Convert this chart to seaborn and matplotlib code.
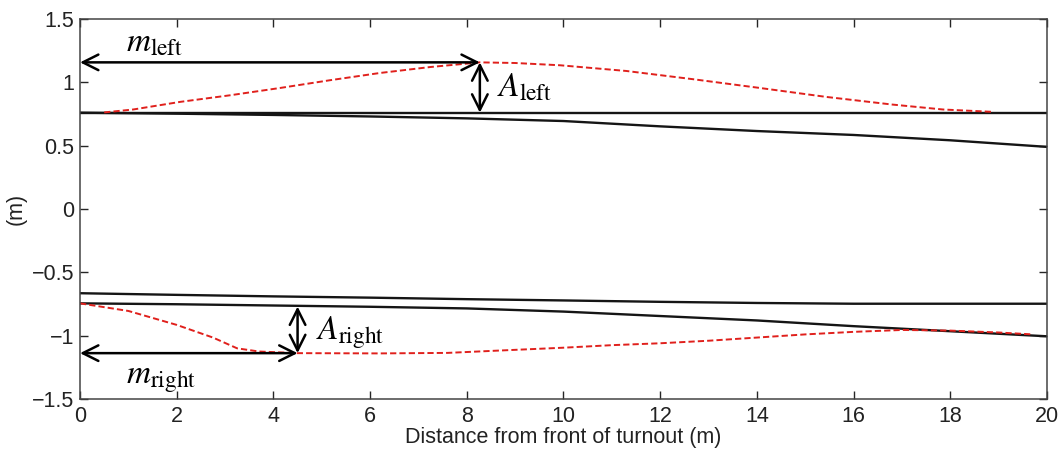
import numpy as np
import pandas as pd
import matplotlib
matplotlib.use("Agg")
import matplotlib.pyplot as plt
import seaborn as sns

# ---- data ----
rail_x = [0, 2, 4, 6, 8, 10, 12, 14, 16, 18, 20]
left_straight_y = [0.76, 0.76, 0.76, 0.76, 0.76, 0.76, 0.76, 0.76, 0.76, 0.76, 0.76]
left_curve_y = [0.76, 0.752, 0.742, 0.73, 0.715, 0.694, 0.652, 0.615, 0.584, 0.542, 0.49]
right_upper_y = [-0.665, -0.678, -0.69, -0.70, -0.712, -0.722, -0.733, -0.742, -0.748, -0.748, -0.748]
right_lower_y = [-0.745, -0.752, -0.762, -0.772, -0.785, -0.81, -0.845, -0.88, -0.925, -0.965, -1.005]

red_left_x = [0.5, 1.1, 2.07, 3.1, 4.14, 5.17, 6.2, 7.24, 8.27, 9.0, 9.93, 11.3, 12.68,
              14.06, 15.44, 16.8, 17.85, 18.9]
red_left_y = [0.762, 0.785, 0.845, 0.897, 0.955, 1.016, 1.073, 1.12, 1.157, 1.152, 1.134,
              1.089, 1.024, 0.955, 0.884, 0.824, 0.785, 0.766]
red_right_x = [0, 1, 2, 2.75, 3.25, 3.7, 4.5, 6.2, 7.6, 8.7, 10, 11, 12, 13, 14, 15, 16, 17,
               18, 19, 19.7]
red_right_y = [-0.745, -0.805, -0.915, -1.015, -1.1, -1.125, -1.138, -1.14, -1.136, -1.117,
               -1.095, -1.075, -1.06, -1.04, -1.015, -0.99, -0.97, -0.955, -0.96, -0.975, -0.99]

# annotation arrows: (x0, y0, x1, y1)
m_left_arrow = [0, 1.157, 8.27, 1.157]
a_left_arrow = [8.27, 1.157, 8.27, 0.76]
a_right_arrow = [4.5, -0.77, 4.5, -1.138]
m_right_arrow = [0, -1.138, 4.5, -1.138]

x_ticks = [0, 2, 4, 6, 8, 10, 12, 14, 16, 18, 20]
y_ticks = [-1.5, -1, -0.5, 0, 0.5, 1, 1.5]
y_tick_labels = ["\u22121.5", "\u22121", "\u22120.5", "0", "0.5", "1", "1.5"]

# ---- plot ----
sns.set_style("ticks")
plt.rcParams['font.family'] = ['Liberation Sans', 'DejaVu Sans']
plt.rcParams['mathtext.fontset'] = 'stix'

fig = plt.figure(figsize=(10.64, 4.5), dpi=100)
ax = fig.add_axes([0.0752, 0.1133, 0.9088, 0.8447])

for ys in [left_straight_y, left_curve_y, right_upper_y, right_lower_y]:
    sns.lineplot(x=rail_x, y=ys, ax=ax, color="#151515", lw=1.7)

sns.lineplot(x=red_left_x, y=red_left_y, ax=ax, color="#e0201c", lw=1.4,
             linestyle=(0, (3.2, 1.6)))
sns.lineplot(x=red_right_x, y=red_right_y, ax=ax, color="#e0201c", lw=1.4,
             linestyle=(0, (3.2, 1.6)))

for a in [m_left_arrow, a_left_arrow, a_right_arrow, m_right_arrow]:
    ax.annotate("", xy=(a[2], a[3]), xytext=(a[0], a[1]), xycoords="data",
                arrowprops=dict(arrowstyle="<->", color="black", lw=1.8,
                                mutation_scale=28, shrinkA=0, shrinkB=0))

lab_kw = dict(fontsize=24, color="black")
ax.text(0.95, 1.24, r"$m_{\mathrm{left}}$", **lab_kw)
ax.text(8.62, 0.89, r"$A_{\mathrm{left}}$", **lab_kw)
ax.text(4.88, -1.03, r"$A_{\mathrm{right}}$", **lab_kw)
ax.text(0.95, -1.375, r"$m_{\mathrm{right}}$", **lab_kw)

ax.set_xlim(0, 20)
ax.set_ylim(-1.5, 1.5)
ax.set_xticks(x_ticks)
ax.set_yticks(y_ticks)
ax.set_yticklabels(y_tick_labels)
ax.tick_params(direction="in", top=True, right=True, length=6, width=1,
               labelsize=15.5, labelcolor="#222222")
ax.tick_params(axis="x", pad=5)
ax.tick_params(axis="y", pad=4)
for s in ax.spines.values():
    s.set_linewidth(1.1)
    s.set_color("#444444")
ax.set_xlabel("Distance from front of turnout (m)", fontsize=15.5, labelpad=0, color="#222222")
ax.set_ylabel("(m)", fontsize=15.5, labelpad=4, color="#222222")

fig.savefig("out.png", dpi=100)
